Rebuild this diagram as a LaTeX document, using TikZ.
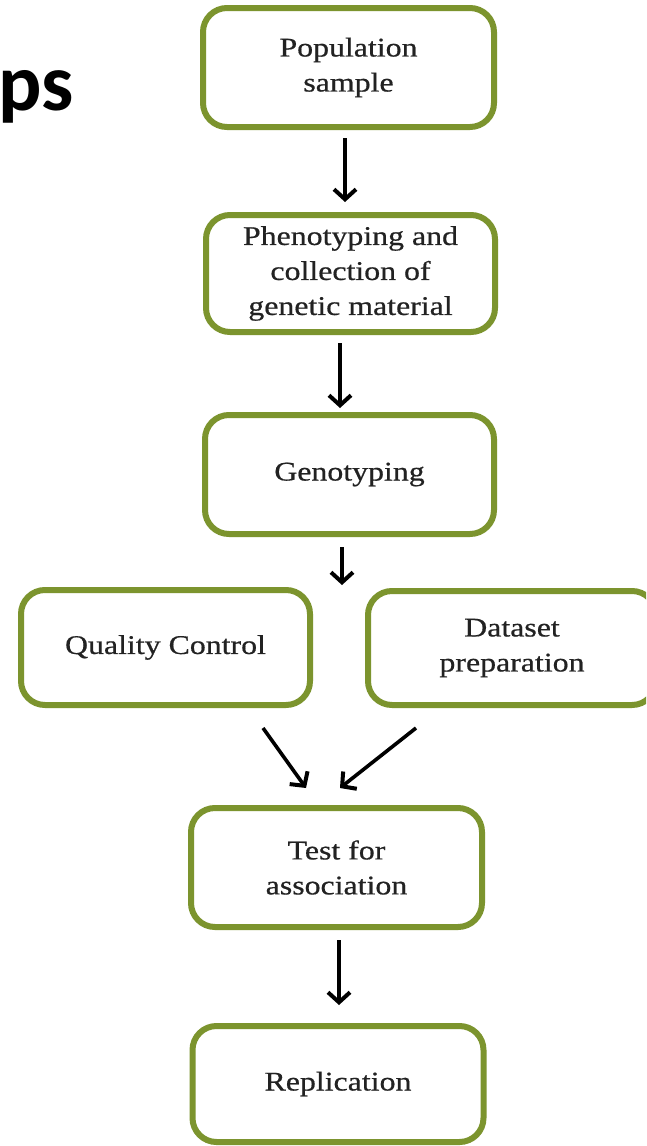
\documentclass[tikz,border=0pt]{standalone}
\usepackage{fontspec}
\setmainfont{Liberation Serif}
\newfontfamily\boxfont[FakeStretch=1.18,FakeBold=0.6]{Liberation Serif}
\newfontfamily\headfont{Carlito}
\usetikzlibrary{arrows.meta}
\definecolor{olive}{RGB}{124,148,46}
\definecolor{txt}{RGB}{34,34,34}
\tikzset{
  stepbox/.style={draw=olive, line width=6pt, rounded corners=24pt, fill=white,
    align=center, text=txt, inner sep=0pt,
    font=\boxfont\fontsize{27}{35}\selectfont},
  arr/.style={line width=3.6pt, draw=black,
    -{Straight Barb[length=10pt,width=22pt,line width=4pt]}}
}
\begin{document}
\begin{tikzpicture}[x=1pt,y=-1pt]
\useasboundingbox (0,0) rectangle (646,1146);
\clip (0,0) rectangle (646,1146);
\fill[white] (0,0) rectangle (646,1146);
\node[anchor=base east, font=\headfont\bfseries\fontsize{81}{90}\selectfont, text=black] (title) at (77,110) {ps};

\node[stepbox, minimum width=291pt, minimum height=119pt] (pop) at (348.5,67.5) {Population\\sample};
\node[stepbox, minimum width=289pt, minimum height=117pt] (pheno) at (350.5,273.5) {Phenotyping and\\collection of\\genetic material};
\node[stepbox, minimum width=289pt, minimum height=119pt] (geno) at (349.5,474.5) {Genotyping};
\node[stepbox, minimum width=289pt, minimum height=115pt] (qc) at (165.5,647.5) {Quality Control};
\node[stepbox, minimum width=288pt, minimum height=114pt] (data) at (512,648) {Dataset\\preparation};
\node[stepbox, minimum width=291pt, minimum height=119pt] (test) at (336.5,867.5) {Test for\\association};
\node[stepbox, minimum width=291pt, minimum height=116pt] (rep) at (338,1084) {Replication};

\coordinate (a1s) at (345,138);
\coordinate (a1e) at (345,202);
\coordinate (a2s) at (340,343);
\coordinate (a2e) at (340,408);
\coordinate (a3s) at (342,547);
\coordinate (a3e) at (342,585);
\coordinate (a4s) at (263,728);
\coordinate (a4e) at (306,788);
\coordinate (a5s) at (416,728);
\coordinate (a5e) at (340,788);
\coordinate (a6s) at (339,940);
\coordinate (a6e) at (339,1005);

\draw[arr] (a1s) -- (a1e);
\draw[arr] (a2s) -- (a2e);
\draw[arr] (a3s) -- (a3e);
\draw[arr] (a4s) -- (a4e);
\draw[arr] (a5s) -- (a5e);
\draw[arr] (a6s) -- (a6e);
\end{tikzpicture}
\end{document}
